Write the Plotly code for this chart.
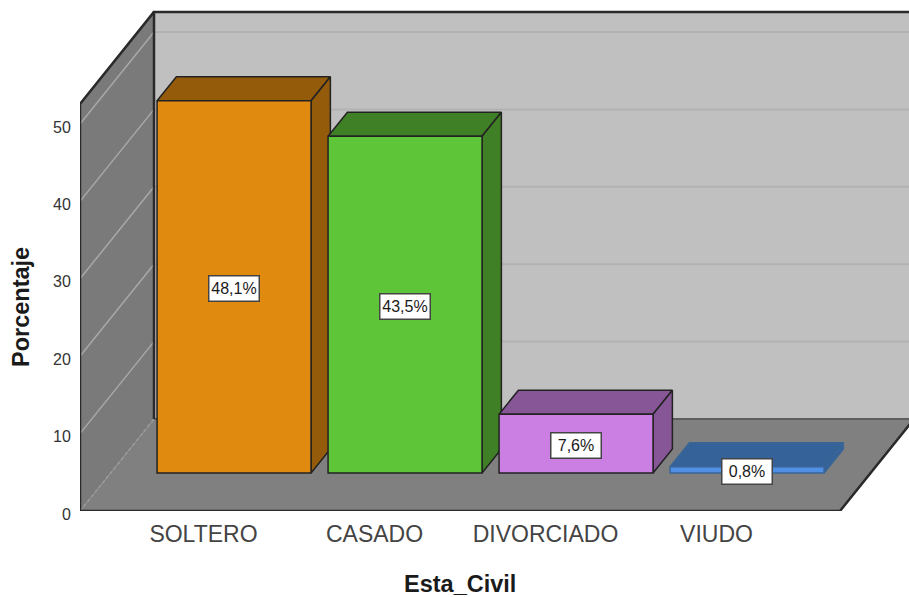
import plotly.graph_objects as go

# Survey data
categories = ["SOLTERO", "CASADO", "DIVORCIADO", "VIUDO"]
percentages = [48.1, 43.5, 7.6, 0.8]
y_ticks = [0, 10, 20, 30, 40, 50]
front_colors = ["#E08A0F", "#5EC538", "#CC7FE3", "#4F90E5"]
shade_colors = ["#935B0A", "#3F7F26", "#875696", "#356399"]
edge_colors = ["#222222", "#222222", "#222222", "#3A6596"]

# Pixel layout of the plot area and the scale of each axis
FIG_W, FIG_H = 909, 597
LEFT, BOTTOM = 80, 86
PX_PER_CAT, PX_PER_UNIT = 171.0, 7.74
FIRST_CAT_PX = 203.5
PLOT_W, PLOT_H = FIG_W - LEFT, FIG_H - BOTTOM
X_RANGE = [(LEFT - FIRST_CAT_PX) / PX_PER_CAT, (FIG_W - FIRST_CAT_PX) / PX_PER_CAT]
Y_RANGE = [0, PLOT_H / PX_PER_UNIT]

# Oblique projection: a full step in depth moves a point right and up
DEPTH_X = 74 / PX_PER_CAT
DEPTH_Y = 92 / PX_PER_UNIT
WALL_TOP = 52.6
BAR_WIDTH = 154 / PX_PER_CAT
BAR_D0, BAR_D1 = 0.413, 0.674
LEFT_CAT = X_RANGE[0]
FLOOR_RIGHT = (840 - FIRST_CAT_PX) / PX_PER_CAT
BACK_RIGHT = X_RANGE[1] - DEPTH_X


def proj(c, v, d):
    return c + d * DEPTH_X, v + d * DEPTH_Y


def poly(points, fill, line="#222222", width=1.5):
    xs, ys = zip(*[proj(*p) for p in points])
    return go.Scatter(
        x=list(xs) + [xs[0]], y=list(ys) + [ys[0]],
        mode="lines", fill="toself", fillcolor=fill,
        line=dict(color=line, width=width),
        hoverinfo="skip", showlegend=False,
    )


def path(points, color, width, dash="solid", clip=True):
    xs, ys = zip(*[proj(*p) for p in points])
    return go.Scatter(
        x=xs, y=ys, mode="lines", line=dict(color=color, width=width, dash=dash),
        cliponaxis=clip, hoverinfo="skip", showlegend=False,
    )


fig = go.Figure()

# Room: back wall, left wall, floor
fig.add_trace(poly([(LEFT_CAT, 0, 1), (BACK_RIGHT, 0, 1), (BACK_RIGHT, WALL_TOP, 1), (LEFT_CAT, WALL_TOP, 1)],
                   "#C0C0C0", "rgba(0,0,0,0)", 0))
fig.add_trace(poly([(LEFT_CAT, 0, 0), (LEFT_CAT, 0, 1), (LEFT_CAT, WALL_TOP, 1), (LEFT_CAT, WALL_TOP, 0)],
                   "#7A7A7A", "rgba(0,0,0,0)", 0))

# Gridlines run along the left wall and across the back wall
for t in y_ticks[1:]:
    fig.add_trace(path([(LEFT_CAT, t, 1), (BACK_RIGHT, t, 1)], "#B2B2B2", 2))
    fig.add_trace(path([(LEFT_CAT, t, 0), (LEFT_CAT, t, 1)], "#A8A8A8", 1.5))

fig.add_trace(poly([(LEFT_CAT, 0, 0), (FLOOR_RIGHT, 0, 0), (FLOOR_RIGHT, 0, 1), (LEFT_CAT, 0, 1)],
                   "#808080", "rgba(0,0,0,0)", 0))

# Room edges
fig.add_trace(path([(LEFT_CAT, 0, 1), (BACK_RIGHT, 0, 1)], "#5E5E5E", 2))
fig.add_trace(path([(LEFT_CAT, 0, 0), (LEFT_CAT, 0, 1)], "#9C9C9C", 1.5, "dot"))
fig.add_trace(path([(LEFT_CAT, 0, 1), (LEFT_CAT, WALL_TOP, 1), (BACK_RIGHT, WALL_TOP, 1)], "#2A2A2A", 2.5, clip=False))
fig.add_trace(path([(LEFT_CAT, 0, 0), (LEFT_CAT, WALL_TOP, 0), (LEFT_CAT, WALL_TOP, 1)], "#2A2A2A", 2.5, clip=False))
fig.add_trace(path([(LEFT_CAT, 0, 0), (FLOOR_RIGHT, 0, 0), (FLOOR_RIGHT, 0, 1)], "#2A2A2A", 2.5, clip=False))

# Top and side faces of each bar
for i, value in enumerate(percentages):
    l, r = i - BAR_WIDTH / 2, i + BAR_WIDTH / 2
    fig.add_trace(poly([(l, value, BAR_D0), (r, value, BAR_D0), (r, value, BAR_D1), (l, value, BAR_D1)],
                       shade_colors[i], edge_colors[i]))
    fig.add_trace(poly([(r, 0, BAR_D0), (r, 0, BAR_D1), (r, value, BAR_D1), (r, value, BAR_D0)],
                       shade_colors[i], edge_colors[i]))

# Front faces sit on an overlay axis pair so they stay above every side face
shift_x, base_y = proj(0, 0, BAR_D0)
fig.add_trace(go.Bar(
    x=[i + shift_x for i in range(len(categories))],
    y=percentages,
    base=base_y,
    width=BAR_WIDTH,
    xaxis="x2", yaxis="y2",
    marker=dict(color=front_colors, line=dict(color=edge_colors, width=1.5)),
    hoverinfo="skip", showlegend=False,
))

# Percentage labels at the centre of each front face
annotations = [
    dict(
        x=i + shift_x, y=base_y + value / 2, xref="x2", yref="y2",
        text=f"{value:.1f}".replace(".", ",") + "%", showarrow=False, yshift=-2,
        font=dict(family="Liberation Sans", size=16, color="#1A1A1A"),
        bgcolor="white", bordercolor="#444444", borderwidth=1.5, borderpad=1.5,
        width=46, height=21,
    )
    for i, value in enumerate(percentages)
]
annotations += [
    dict(text="<b>Esta_Civil</b>", xref="paper", yref="paper", x=(460 - LEFT) / PLOT_W, y=-(584 - PLOT_H) / PLOT_H,
         xanchor="center", yanchor="middle", showarrow=False,
         font=dict(family="Liberation Sans", size=23.5, color="#1A1A1A")),
    dict(text="<b>Porcentaje</b>", xref="paper", yref="paper", x=(21 - LEFT) / PLOT_W, y=(PLOT_H - 307) / PLOT_H,
         xanchor="center", yanchor="middle", showarrow=False, textangle=-90,
         font=dict(family="Liberation Sans", size=23.5, color="#1A1A1A")),
]

fig.update_layout(
    width=FIG_W, height=FIG_H,
    margin=dict(l=LEFT, r=0, t=0, b=BOTTOM),
    paper_bgcolor="white", plot_bgcolor="white",
    showlegend=False,
    annotations=annotations,
    xaxis=dict(
        range=X_RANGE, tickmode="array", tickvals=list(range(len(categories))), ticktext=categories,
        showgrid=False, zeroline=False, showline=False,
        ticks="outside", ticklen=2, tickcolor="rgba(0,0,0,0)",
        tickfont=dict(family="Liberation Sans", size=23, color="#444444"),
    ),
    yaxis=dict(
        range=Y_RANGE, tickmode="array", tickvals=y_ticks,
        showgrid=False, zeroline=False, showline=False,
        ticks="outside", ticklen=5, tickcolor="rgba(0,0,0,0)", ticklabelshift=3,
        tickfont=dict(family="Liberation Sans", size=16, color="#333333"),
    ),
    xaxis2=dict(range=X_RANGE, overlaying="x", visible=False),
    yaxis2=dict(range=Y_RANGE, overlaying="y", visible=False),
)

fig.write_html("out.html", config=dict(displayModeBar=False))
